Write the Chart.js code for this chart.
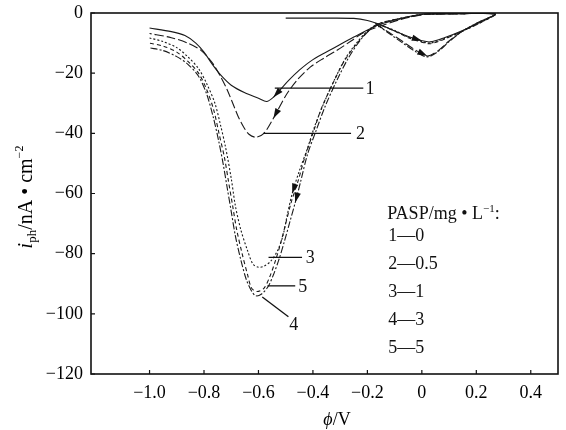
<!DOCTYPE html>
<html lang="zh">
<head>
<meta charset="UTF-8">
<title>PASP</title>
<script src="https://cdn.jsdelivr.net/npm/chart.js"></script>
<style>
  body { margin: 0; background: #fff; }
  .grafico { position: relative; width: 566px; height: 430px; }
</style>
</head>
<body>
<div class="grafico"><canvas id="curvas"></canvas></div>
<script>
const serif = '"Liberation Serif", "Times New Roman", serif';

// curve numbers and PASP concentration (mg/L)
const curveIds = ['1', '2', '3', '4', '5'];
const pasp = ['0', '0.5', '1', '3', '5'];

const xTicks = [-1.0, -0.8, -0.6, -0.4, -0.2, 0, 0.2, 0.4];
const yTicks = [0, -20, -40, -60, -80, -100, -120];

// 1 - 0 mg/L
const phi1 = [-0.50, -0.35, -0.25, -0.20, -0.15, -0.10, -0.05, 0.00, 0.03, 0.08, 0.15, 0.22, 0.27, 0.15, 0.05, 0.00, -0.08, -0.16, -0.25, -0.33, -0.40, -0.45, -0.49, -0.52, -0.545, -0.57, -0.60, -0.65, -0.70, -0.74, -0.77, -0.80, -0.83, -0.87, -0.92, -1.00];
const i1 = [-1.7, -1.7, -1.8, -2.5, -4.0, -6.0, -7.8, -9.2, -9.6, -8.3, -5.8, -2.8, -0.3, -0.2, -0.3, -0.4, -1.8, -4.0, -8.0, -12.0, -15.5, -19.0, -22.5, -25.5, -28.0, -29.4, -28.3, -26.5, -24.0, -20.5, -17.0, -13.0, -10.0, -7.5, -6.2, -5.0];

// 2 - 0.5 mg/L
const phi2 = [-0.17, -0.12, -0.07, -0.02, 0.02, 0.06, 0.10, 0.15, 0.21, 0.27, 0.15, 0.05, 0.00, -0.08, -0.16, -0.215, -0.26, -0.31, -0.36, -0.41, -0.46, -0.50, -0.545, -0.58, -0.61, -0.635, -0.655, -0.675, -0.69, -0.715, -0.74, -0.77, -0.81, -0.86, -0.92, -1.00];
const i2 = [-3.6, -6.5, -9.5, -12.5, -14.3, -12.5, -9.3, -6.0, -3.0, -0.3, -0.2, -0.4, -0.6, -2.2, -4.6, -6.6, -9.3, -12.3, -15.0, -18.0, -22.5, -27.5, -35.0, -40.0, -41.3, -40.3, -37.8, -34.3, -31.0, -25.5, -21.0, -16.5, -12.5, -10.0, -8.2, -6.8];

// 3 - 1 mg/L
const phi3 = [-0.17, -0.10, -0.05, 0.00, 0.03, 0.08, 0.15, 0.22, 0.27, 0.15, 0.05, 0.00, -0.08, -0.16, -0.20, -0.24, -0.28, -0.32, -0.36, -0.395, -0.42, -0.45, -0.476, -0.494, -0.51, -0.53, -0.555, -0.58, -0.60, -0.62, -0.64, -0.665, -0.685, -0.70, -0.72, -0.74, -0.76, -0.79, -0.82, -0.86, -0.90, -0.95, -1.00];
const i3 = [-3.4, -5.8, -8.0, -9.5, -10.0, -8.6, -6.0, -3.0, -0.3, -0.2, -0.3, -0.5, -1.8, -3.6, -6.0, -10.0, -15.0, -22.0, -30.0, -38.0, -45.0, -52.5, -60.0, -67.0, -74.0, -79.0, -82.5, -84.2, -84.5, -83.5, -79.0, -72.0, -64.0, -55.0, -45.0, -37.0, -30.0, -23.5, -18.5, -14.5, -11.5, -9.5, -8.3];

// 4 - 3 mg/L
const phi4 = [-0.17, -0.12, -0.07, -0.02, 0.02, 0.06, 0.10, 0.15, 0.21, 0.27, 0.15, 0.05, 0.00, -0.08, -0.16, -0.19, -0.23, -0.27, -0.31, -0.355, -0.39, -0.42, -0.445, -0.465, -0.485, -0.505, -0.525, -0.545, -0.565, -0.59, -0.61, -0.625, -0.645, -0.665, -0.685, -0.70, -0.715, -0.73, -0.745, -0.765, -0.79, -0.82, -0.86, -0.90, -0.95, -1.00];
const i4 = [-3.6, -6.8, -10.0, -13.0, -14.6, -12.8, -9.5, -6.0, -3.0, -0.3, -0.2, -0.3, -0.5, -2.0, -3.8, -5.5, -9.5, -15.0, -22.0, -31.0, -39.5, -47.0, -56.0, -63.0, -69.5, -76.0, -82.0, -87.0, -91.0, -93.5, -94.0, -92.5, -88.5, -82.0, -74.0, -66.0, -58.0, -50.0, -43.0, -35.0, -27.0, -21.0, -17.0, -14.5, -12.5, -11.6];

// 5 - 5 mg/L
const phi5 = [-0.17, -0.10, -0.05, 0.00, 0.03, 0.08, 0.15, 0.22, 0.27, 0.15, 0.05, 0.00, -0.08, -0.16, -0.20, -0.24, -0.285, -0.33, -0.37, -0.40, -0.43, -0.455, -0.48, -0.50, -0.52, -0.54, -0.56, -0.58, -0.605, -0.625, -0.64, -0.66, -0.68, -0.695, -0.71, -0.725, -0.745, -0.765, -0.79, -0.82, -0.86, -0.90, -0.95, -1.00];
const i5 = [-3.4, -6.0, -8.2, -9.7, -10.2, -8.8, -6.0, -3.0, -0.3, -0.2, -0.3, -0.5, -1.8, -3.6, -6.3, -10.3, -16.0, -24.0, -32.0, -40.0, -48.0, -56.0, -63.0, -70.0, -77.0, -83.0, -88.0, -91.5, -92.6, -91.5, -87.0, -80.0, -72.0, -64.0, -56.0, -48.0, -40.0, -32.0, -25.5, -20.0, -16.0, -13.0, -11.0, -10.0];

const phis = [phi1, phi2, phi3, phi4, phi5];
const currents = [i1, i2, i3, i4, i5];
const dashes = [[], [9, 3], [2, 2], [7, 2, 2, 2], [4, 3]];
// point indices that carry a scan-direction arrowhead
const arrows = [[7, 24], [4, 22], [22], [23], []];

// numbered leader lines: start, end and label position in data units
const leaders = [
  { from: [-0.540, -25.0], to: [-0.215, -25.0], at: [-0.190, -25.0] },
  { from: [-0.582, -40.0], to: [-0.260, -40.0], at: [-0.225, -40.0] },
  { from: [-0.563, -81.2], to: [-0.440, -81.2], at: [-0.410, -81.2] },
  { from: [-0.586, -94.4], to: [-0.490, -101.0], at: [-0.470, -103.5] },
  { from: [-0.567, -90.7], to: [-0.465, -90.7], at: [-0.437, -90.7] }
];

function minus(s) { return s.replace('-', '\u2212'); }

const datasets = phis.map((phi, k) => ({
  label: curveIds[k],
  data: phi.map((x, n) => ({ x: x, y: currents[k][n] })),
  showLine: true,
  borderColor: '#1a1a1a',
  borderWidth: 1.1,
  borderDash: dashes[k],
  pointRadius: 0,
  tension: 0.3,
  arrowAt: arrows[k]
}));

function arrowHead(ctx, from, to) {
  const a = Math.atan2(to.y - from.y, to.x - from.x);
  const len = 10, half = 3.2;
  ctx.beginPath();
  ctx.moveTo(to.x, to.y);
  ctx.lineTo(to.x - len * Math.cos(a) + half * Math.sin(a), to.y - len * Math.sin(a) - half * Math.cos(a));
  ctx.lineTo(to.x - len * Math.cos(a) - half * Math.sin(a), to.y - len * Math.sin(a) + half * Math.cos(a));
  ctx.closePath();
  ctx.fill();
}

// draws text pieces in a row: [text, size, italic, dy]
function drawPieces(ctx, pieces, x, y, align) {
  let total = 0;
  pieces.forEach(p => {
    ctx.font = (p[2] ? 'italic ' : '') + p[1] + 'px ' + serif;
    p.w = ctx.measureText(p[0]).width;
    total += p.w;
  });
  let cx = align === 'center' ? x - total / 2 : x;
  pieces.forEach(p => {
    ctx.font = (p[2] ? 'italic ' : '') + p[1] + 'px ' + serif;
    ctx.fillText(p[0], cx, y + p[3]);
    cx += p.w;
  });
}

const extras = {
  id: 'extras',
  afterDatasetsDraw(chart) {
    const ctx = chart.ctx;
    const xs = chart.scales.x, ys = chart.scales.y;
    const area = chart.chartArea;
    ctx.save();
    ctx.fillStyle = '#111';
    ctx.strokeStyle = '#111';

    // arrowheads along the scans
    chart.data.datasets.forEach((ds, k) => {
      const pts = chart.getDatasetMeta(k).data;
      ds.arrowAt.forEach(n => arrowHead(ctx, pts[n - 1], pts[n]));
    });

    // leaders and curve numbers
    ctx.lineWidth = 1.3;
    ctx.font = '18px ' + serif;
    ctx.textAlign = 'center';
    ctx.textBaseline = 'middle';
    leaders.forEach((l, k) => {
      ctx.beginPath();
      ctx.moveTo(xs.getPixelForValue(l.from[0]), ys.getPixelForValue(l.from[1]));
      ctx.lineTo(xs.getPixelForValue(l.to[0]), ys.getPixelForValue(l.to[1]));
      ctx.stroke();
      ctx.fillText(curveIds[k], xs.getPixelForValue(l.at[0]), ys.getPixelForValue(l.at[1]) + 1);
    });

    // key of concentrations
    ctx.textAlign = 'left';
    ctx.textBaseline = 'alphabetic';
    const kx = xs.getPixelForValue(-0.127);
    const ky = ys.getPixelForValue(-68.5);
    drawPieces(ctx, [['PASP/mg \u2022 L', 18, false, 0], ['\u22121', 11, false, -7], [':', 18, false, 0]], kx, ky, 'left');
    ctx.font = '18px ' + serif;
    curveIds.forEach((c, k) => {
      ctx.fillText(c + '\u2014' + pasp[k], kx + 1, ky + 22 + k * 28);
    });

    // frame and inward tick marks
    ctx.lineWidth = 1.6;
    ctx.strokeRect(area.left, area.top, area.right - area.left, area.bottom - area.top);
    ctx.lineWidth = 1.2;
    ctx.beginPath();
    xTicks.forEach(v => {
      const px = xs.getPixelForValue(v);
      ctx.moveTo(px, area.bottom);
      ctx.lineTo(px, area.bottom - 4);
    });
    yTicks.forEach(v => {
      const py = ys.getPixelForValue(v);
      ctx.moveTo(area.left, py);
      ctx.lineTo(area.left + 4, py);
    });
    ctx.stroke();

    // axis titles
    ctx.fillStyle = '#000';
    drawPieces(ctx, [['\u03d5', 18, true, 0], ['/V', 18, false, 0]], 337, 425, 'center');
    ctx.translate(32, 197);
    ctx.rotate(-Math.PI / 2);
    drawPieces(ctx, [['i', 20, true, 0], ['ph', 13, false, 4], ['/nA \u2022 cm', 20, false, 0], ['\u22122', 12, false, -9]], 0, 0, 'center');
    ctx.restore();
  }
};

new Chart(document.getElementById('curvas'), {
  type: 'scatter',
  data: { datasets: datasets },
  options: {
    responsive: true,
    maintainAspectRatio: false,
    animation: false,
    layout: { padding: { top: 13, right: 8, left: 0, bottom: 0 } },
    plugins: { legend: { display: false }, tooltip: { enabled: false } },
    scales: {
      x: {
        type: 'linear',
        min: -1.215,
        max: 0.5,
        afterBuildTicks: s => { s.ticks = xTicks.map(v => ({ value: v })); },
        afterFit: s => { s.height = 56; s.paddingLeft = 0; s.paddingRight = 0; },
        grid: { display: false, drawTicks: false },
        border: { display: false },
        ticks: {
          color: '#000',
          padding: 8,
          maxRotation: 0,
          autoSkip: false,
          font: { family: serif, size: 18 },
          callback: v => v === 0 ? '0' : minus(v.toFixed(1))
        }
      },
      y: {
        type: 'linear',
        min: -120,
        max: 0,
        afterBuildTicks: s => { s.ticks = yTicks.map(v => ({ value: v })); },
        afterFit: s => { s.width = 91; s.paddingTop = 0; s.paddingBottom = 0; },
        grid: { display: false, drawTicks: false },
        border: { display: false },
        ticks: {
          color: '#000',
          padding: 8,
          font: { family: serif, size: 18 },
          callback: v => minus(String(v))
        }
      }
    }
  },
  plugins: [extras]
});
</script>
</body>
</html>
